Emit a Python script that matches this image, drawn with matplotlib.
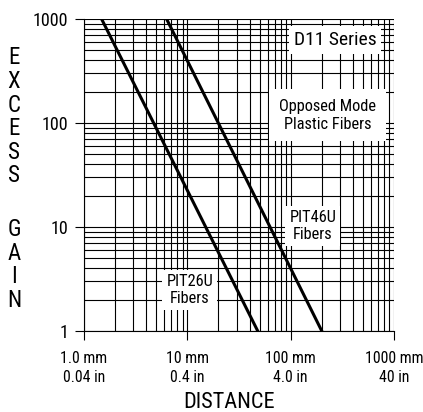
import matplotlib
matplotlib.use("Agg")
import matplotlib.pyplot as plt
from matplotlib import font_manager
from matplotlib.ticker import NullFormatter, FixedLocator

# data
pit26_dist = [1.48, 48]
pit26_gain = [1000, 1]
pit46_dist = [6.3, 200]
pit46_gain = [1000, 1]

x_ticks = [1, 10, 100, 1000]
x_labels = ["1.0 mm\n0.04 in", "10 mm\n0.4 in", "100 mm\n4.0 in", "1000 mm\n40 in"]
y_ticks = [1, 10, 100, 1000]
y_labels = ["1", "10", "100", "1000"]

# look for a narrow sans face, the reference uses an Arial Narrow look
narrow = None
prefs = ["Liberation Sans Narrow", "Roboto Condensed", "Open Sans Condensed",
         "Noto Sans", "Roboto", "Open Sans", "DejaVu Sans"]
cands = [f for f in font_manager.fontManager.ttflist
         if (f.stretch in ("condensed", "semi-condensed", "extra-condensed")
             or "Narrow" in f.name or "Condensed" in f.name)
         and f.style == "normal" and f.weight in (400, "normal", "regular")]
for p in prefs:
    hit = [f for f in cands if f.name == p]
    if hit:
        narrow = hit[0]
        break

if narrow is not None:
    plt.rcParams["font.family"] = [narrow.name, "DejaVu Sans"]
    plt.rcParams["font.stretch"] = narrow.stretch
    k = 1.0
    if narrow.name == "DejaVu Sans":
        k = 0.9
else:
    plt.rcParams["font.family"] = ["Liberation Sans", "DejaVu Sans"]
    k = 0.86

fig = plt.figure(figsize=(4.23, 4.12), dpi=100)
ax = fig.add_axes([84 / 423, 1 - 331 / 412, 310 / 423, 312 / 412])

ax.set_xscale("log")
ax.set_yscale("log")
ax.set_xlim(1, 1000)
ax.set_ylim(1, 1000)

# grid at every minor and major decade step
grid_pos = [m * 10 ** e for e in range(0, 3) for m in range(1, 10)] + [1000]
for g in grid_pos:
    ax.axvline(g, color="black", lw=0.8, zorder=1)
    ax.axhline(g, color="black", lw=0.8, zorder=1)

ax.plot(pit26_dist, pit26_gain, color="black", lw=2.2, zorder=3)
ax.plot(pit46_dist, pit46_gain, color="black", lw=2.2, zorder=3)

ax.xaxis.set_major_locator(FixedLocator(x_ticks))
ax.yaxis.set_major_locator(FixedLocator(y_ticks))
ax.xaxis.set_minor_formatter(NullFormatter())
ax.yaxis.set_minor_formatter(NullFormatter())
ax.tick_params(which="minor", length=0)
ax.tick_params(which="major", direction="out", length=6.5, width=0.8, color="black")
ax.set_xticklabels(x_labels, fontsize=11.4 * k, linespacing=1.3)
ax.set_yticklabels(y_labels, fontsize=13 * k)
ax.tick_params(axis="x", pad=8)
ax.tick_params(axis="y", pad=5)

for s in ["top", "right"]:
    ax.spines[s].set_visible(False)
for s in ["left", "bottom"]:
    ax.spines[s].set_linewidth(0.8)

box = dict(boxstyle="square,pad=0.25", fc="white", ec="none")
ax.text(269, 628, "D11 Series", fontsize=14 * k, ha="center", va="center", bbox=box, zorder=4)
ax.text(228, 119, "Opposed Mode\nPlastic Fibers", fontsize=11.8 * k, ha="center", va="center",
        linespacing=1.25, bbox=dict(boxstyle="square,pad=0.6", fc="white", ec="none"), zorder=4)
ax.text(164, 10.3, "PIT46U\nFibers", fontsize=11.8 * k, ha="center", va="center",
        linespacing=1.15, bbox=box, zorder=4)
ax.text(10.6, 2.48, "PIT26U\nFibers", fontsize=11.8 * k, ha="center", va="center",
        linespacing=1.15, bbox=box, zorder=4)

# stacked vertical axis title
letters_top = "EXCESS"
letters_bot = "GAIN"
for i, ch in enumerate(letters_top):
    fig.text(14 / 423, 1 - (58 + i * 23.6) / 412, ch, fontsize=16.5 * k, ha="center", va="center")
for i, ch in enumerate(letters_bot):
    fig.text(14 / 423, 1 - (230 + i * 23.4) / 412, ch, fontsize=16.5 * k, ha="center", va="center")

fig.text(229 / 423, 1 - 402 / 412, "DISTANCE", fontsize=16 * k, ha="center", va="center")

fig.savefig("out.png", dpi=100)
